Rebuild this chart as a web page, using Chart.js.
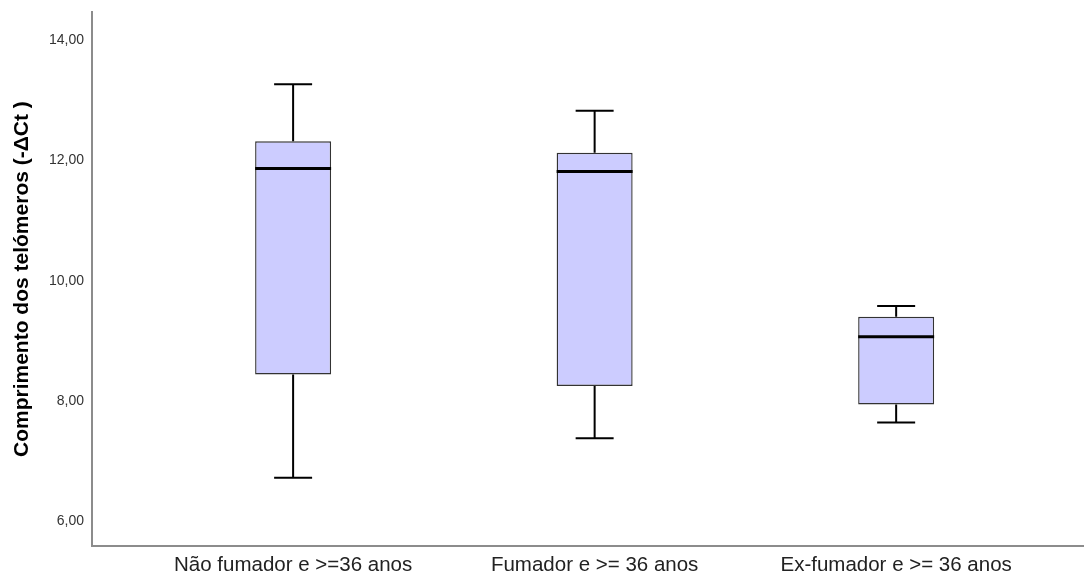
<!DOCTYPE html>
<html>
<head>
<meta charset="utf-8">
<script src="https://cdn.jsdelivr.net/npm/chart.js@4.4.1/dist/chart.umd.min.js"></script>
<style>
  html, body { margin: 0; padding: 0; background: #ffffff; }
  #wrap { width: 1084px; height: 575px; position: relative; }
</style>
</head>
<body>
<div id="wrap"><canvas id="c"></canvas></div>
<script>
// ---- data ----
const categories = ['Não fumador e >=36 anos', 'Fumador e >= 36 anos', 'Ex-fumador e >= 36 anos'];
const whiskerLow  = [6.72, 7.38, 7.64];
const q1          = [8.44, 8.25, 7.94];
const median      = [11.87, 11.82, 9.07];
const q3          = [12.32, 12.13, 9.40];
const whiskerHigh = [13.27, 12.83, 9.58];
const yTicks      = [6, 8, 10, 12, 14];
const yTitle      = 'Comprimento dos telómeros (-\u0394Ct )';

const FONT = '"Liberation Sans", Arial, Helvetica, sans-serif';

const boxData = categories.map((c, i) => ({ x: i + 1, y: [q1[i], q3[i]] }));

const whiskerPlugin = {
  id: 'whiskers',
  afterDatasetsDraw(chart) {
    const meta = chart.getDatasetMeta(0);
    const ys = chart.scales.y;
    const ctx = chart.ctx;
    ctx.save();
    meta.data.forEach((bar, i) => {
      const cx = bar.x;
      const w = bar.width;
      const yHi = ys.getPixelForValue(whiskerHigh[i]);
      const yLo = ys.getPixelForValue(whiskerLow[i]);
      const yQ1 = ys.getPixelForValue(q1[i]);
      const yQ3 = ys.getPixelForValue(q3[i]);
      const yMed = ys.getPixelForValue(median[i]);
      ctx.strokeStyle = '#000000';
      ctx.lineWidth = 2;
      ctx.beginPath();
      ctx.moveTo(cx, yQ3); ctx.lineTo(cx, yHi);
      ctx.moveTo(cx, yQ1); ctx.lineTo(cx, yLo);
      ctx.moveTo(cx - w / 4, yHi); ctx.lineTo(cx + w / 4, yHi);
      ctx.moveTo(cx - w / 4, yLo); ctx.lineTo(cx + w / 4, yLo);
      ctx.stroke();
      ctx.lineWidth = 3;
      ctx.beginPath();
      ctx.moveTo(cx - w / 2, yMed); ctx.lineTo(cx + w / 2, yMed);
      ctx.stroke();
    });
    ctx.restore();
  }
};

new Chart(document.getElementById('c'), {
  type: 'bar',
  data: {
    datasets: [{
      data: boxData,
      backgroundColor: '#ccccff',
      borderColor: '#333333',
      borderWidth: 1.4,
      borderSkipped: false,
      categoryPercentage: 1,
      barPercentage: 0.252
    }]
  },
  options: {
    responsive: true,
    maintainAspectRatio: false,
    animation: false,
    layout: { padding: { top: 12, right: 0, left: 0, bottom: 0 } },
    plugins: { legend: { display: false }, tooltip: { enabled: false } },
    scales: {
      x: {
        type: 'linear',
        offset: false,
        min: 0.333,
        max: 3.623,
        grid: { display: false, drawTicks: false, offset: false },
        border: { display: true, color: '#8c8c8c', width: 2 },
        afterBuildTicks(scale) { scale.ticks = categories.map((c, i) => ({ value: i + 1 })); },
        afterFit(scale) { scale.height = 29; },
        ticks: {
          padding: 7,
          maxRotation: 0,
          autoSkip: false,
          color: '#222222',
          font: { family: FONT, size: 20.5 },
          callback: (v) => categories[Math.round(v) - 1]
        }
      },
      y: {
        min: 5.585,
        max: 14.47,
        grid: { display: false, drawTicks: false },
        border: { display: true, color: '#8c8c8c', width: 2 },
        afterBuildTicks(scale) { scale.ticks = yTicks.map(v => ({ value: v })); },
        afterFit(scale) { scale.width = 92; },
        ticks: {
          padding: 8,
          color: '#333333',
          font: { family: FONT, size: 14, lineHeight: 0.6 },
          callback: (v) => Number(v).toFixed(2).replace('.', ',')
        },
        title: {
          display: true,
          text: yTitle,
          color: '#000000',
          padding: { top: 10, bottom: 0 },
          font: { family: FONT, size: 21, weight: 'bold' }
        }
      }
    }
  },
  plugins: [whiskerPlugin]
});
</script>
</body>
</html>
